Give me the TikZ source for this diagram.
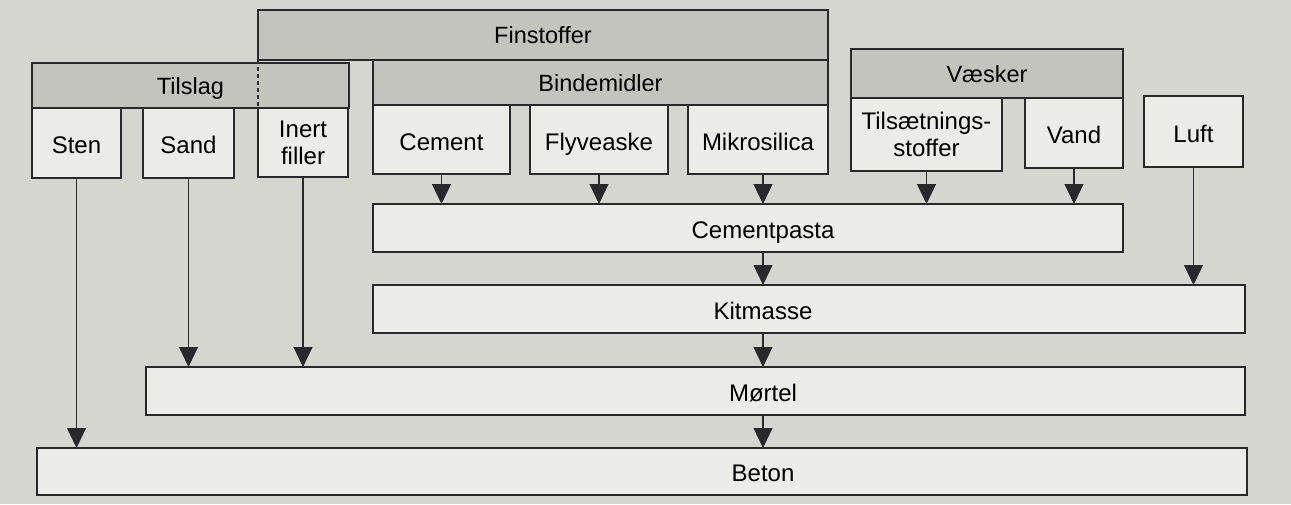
\documentclass[tikz,border=0pt]{standalone}
\usepackage{fontspec}
\setmainfont{Liberation Sans}
\usetikzlibrary{arrows.meta}
\definecolor{bgc}{RGB}{214,214,209}
\definecolor{hdc}{RGB}{196,196,191}
\definecolor{bxc}{RGB}{236,236,232}
\definecolor{lnc}{RGB}{40,40,45}
\newcommand{\bxfont}{\fontsize{24}{27}\selectfont}
\newcommand{\hdfont}{\fontsize{23.5}{26}\selectfont}
\begin{document}
\begin{tikzpicture}[x=1pt,y=-1pt,
  base/.style={draw=lnc, line width=1.4pt, inner sep=0pt, outer sep=0pt, anchor=north west, align=center},
  header/.style={base, fill=hdc, font=\hdfont, text height=19pt, text depth=2pt},
  box/.style={base, fill=bxc, font=\bxfont},
  one/.style={text height=22pt, text depth=1pt},
  bar/.style={base, fill=bxc},
  arr/.style={draw=lnc, line width=1.2pt, -{Triangle[width=19pt,length=20pt]}, fill=lnc},
  lbl/.style={font=\bxfont, inner sep=0pt, text height=21pt, text depth=1pt}
]
\fill[bgc] (0,0) rectangle (1291,504);
\useasboundingbox (0,0) rectangle (1291,504);
\coordinate (col) at (763,0);

% headers
\node[header, minimum width=570, minimum height=50] (fin) at (258,10) {Finstoffer};
\node[header, minimum width=317, minimum height=45] (tils) at (32,63) {Tilslag};
\node[header, minimum width=455, minimum height=45] (bind) at (373,60) {Bindemidler};
\node[header, minimum width=272, minimum height=49] (vaesk) at (851,49) {Væsker};
\draw[draw=lnc, line width=1.4pt, dash pattern=on 4pt off 3pt] (fin.south west) -- (fin.south west |- tils.south);

% material boxes
\node[box, one, minimum width=89, minimum height=70] (sten) at (32,108) {Sten};
\node[box, one, minimum width=91, minimum height=70] (sand) at (143,108) {Sand};
\node[box, minimum width=90, minimum height=69] (inert) at (258,108) {Inert\\filler};
\node[box, one, minimum width=137, minimum height=69] (cement) at (373,105) {Cement};
\node[box, one, minimum width=138, minimum height=69] (flyv) at (530,105) {Flyveaske};
\node[box, one, minimum width=140, minimum height=69] (mikro) at (688,105) {Mikrosilica};
\node[box, minimum width=151, minimum height=73] (tilsaet) at (851,98) {Tilsætnings-\\stoffer};
\node[box, one, minimum width=98, minimum height=70] (vand) at (1025,98) {Vand};
\node[box, one, minimum width=99, minimum height=71] (luft) at (1144,96) {Luft};

% mixture bars
\node[bar, minimum width=750, minimum height=48] (cp) at (373,204) {};
\node[bar, minimum width=872, minimum height=48] (km) at (373,285) {};
\node[bar, minimum width=1099, minimum height=48] (mo) at (146,367) {};
\node[bar, minimum width=1210, minimum height=47] (be) at (37,448) {};
\node[lbl] (cpl) at (cp.center -| col) {Cementpasta};
\node[lbl] (kml) at (km.center -| col) {Kitmasse};
\node[lbl] (mol) at (mo.center -| col) {Mørtel};
\node[lbl] (bel) at (be.center -| col) {Beton};

% arrows
\draw[arr] (cement.south) -- (cement.south |- cp.north);
\draw[arr] (flyv.south) -- (flyv.south |- cp.north);
\draw[arr] (mikro.south -| col) -- (cp.north -| col);
\draw[arr] (tilsaet.south) -- (tilsaet.south |- cp.north);
\draw[arr] (vand.south) -- (vand.south |- cp.north);
\draw[arr] (cp.south -| col) -- (km.north -| col);
\draw[arr] (luft.south) -- (luft.south |- km.north);
\draw[arr] (km.south -| col) -- (mo.north -| col);
\draw[arr] (sand.south) -- (sand.south |- mo.north);
\draw[arr] (inert.south) -- (inert.south |- mo.north);
\draw[arr] (mo.south -| col) -- (be.north -| col);
\draw[arr] (sten.south) -- (sten.south |- be.north);
\end{tikzpicture}
\end{document}
